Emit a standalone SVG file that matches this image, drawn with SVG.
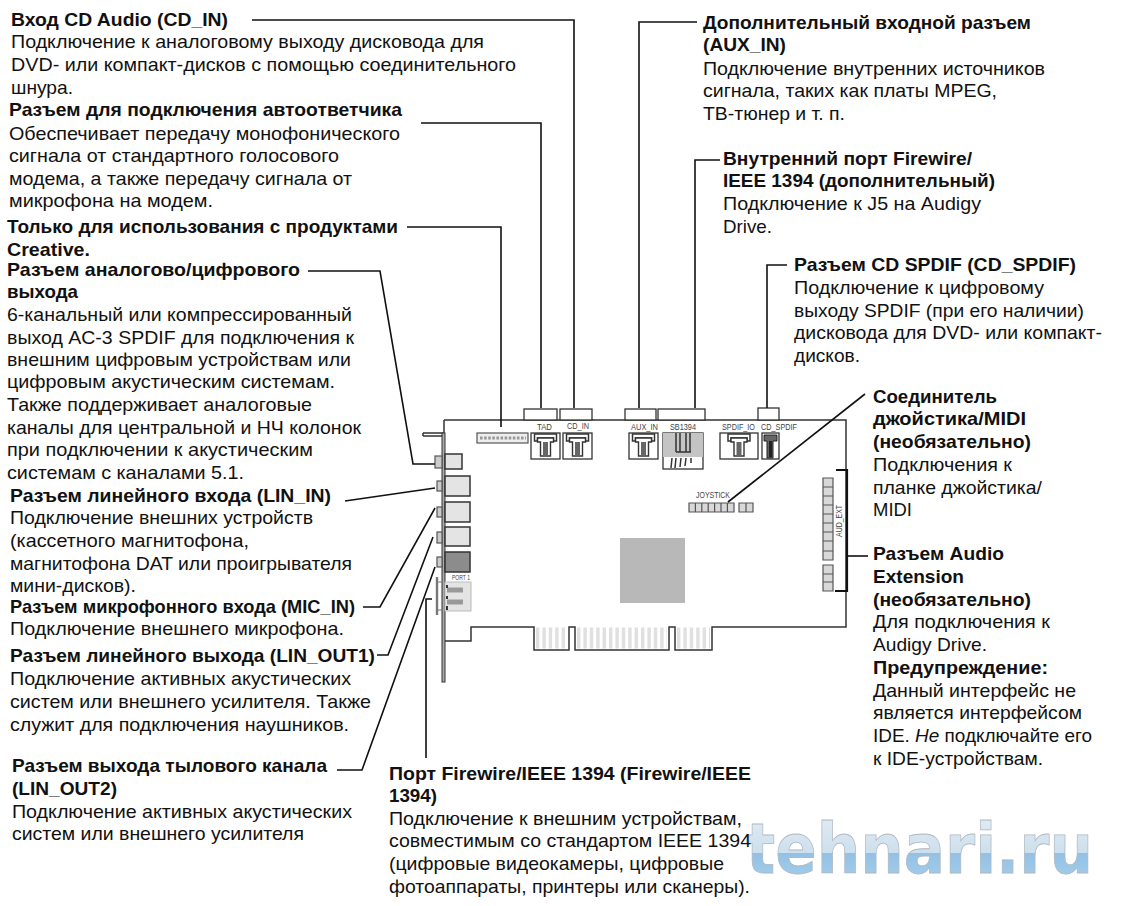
<svg xmlns="http://www.w3.org/2000/svg" width="1143" height="906" viewBox="0 0 1143 906">
<style>
text{font-family:"Liberation Sans",Arial,sans-serif;font-size:18.5px;fill:#111}
.b{font-weight:700}
.s{font-size:9.5px;fill:#444}
.c{fill:none;stroke:#111;stroke-width:1.6}
.o{fill:none;stroke:#333;stroke-width:1.5}
.j{fill:#e4e4e4;stroke:#333;stroke-width:1.5}
.w{fill:#fff;stroke:#333;stroke-width:1.3}
.n{fill:#d8d8d8;stroke:#555;stroke-width:1.2}
.m{fill:#ccc;stroke:#555;stroke-width:1.2}
</style>
<defs>
<g id="tee"><path class="o" d="M-11 1H11V8H8V5H-8V8H-11Z"/><path d="M-8 5H8V9H5V23H-5V9H-8Z" fill="#fff" stroke="#333" stroke-width="1.4"/><rect x="-2.5" y="9" width="5" height="13" fill="#666"/></g>
<linearGradient id="wm" gradientUnits="userSpaceOnUse" x1="0" y1="820" x2="0" y2="873"><stop offset="0" stop-color="#dfeaf3"/><stop offset=".62" stop-color="#cddfed"/><stop offset=".63" stop-color="#93c1e5"/><stop offset="1" stop-color="#a0cae9"/></linearGradient>
</defs>
<text id="watermark" x="746" y="873" textLength="347" lengthAdjust="spacingAndGlyphs" style="font-family:'DejaVu Sans',sans-serif;font-weight:700;font-size:70px;fill:url(#wm);stroke:#b0b8c0;stroke-width:.8">tehnari.ru</text>
<g id="board">
<path class="o" d="M444 420H846V627H712V650H675V627H669V650H575V627H569V650H534V627H471V641H445"/>
<path class="o" d="M423 433H443M423 436H442M423 433V436"/>
<rect x="442" y="433" width="3" height="249" fill="#aaa" stroke="#333" stroke-width="1"/>
<path d="M444 420V433" class="o"/>
<path fill="none" stroke="#777" stroke-width="2.4" d="M437 577V615"/>
<path stroke="#777" stroke-width="1.2" d="M437 582H443M437 610H443"/>
<rect class="w" x="524" y="409" width="33" height="11"/><rect class="w" x="560" y="409" width="32" height="11"/><rect class="w" x="625" y="409" width="31" height="11"/><rect class="w" x="658" y="409" width="47" height="11"/><rect class="w" x="758" y="408" width="21" height="12"/>
<text class="s" x="537" y="430" textLength="15" lengthAdjust="spacingAndGlyphs">TAD</text><text class="s" x="567" y="429" textLength="22" lengthAdjust="spacingAndGlyphs">CD_IN</text><text class="s" x="631" y="430" textLength="27" lengthAdjust="spacingAndGlyphs">AUX_IN</text><text class="s" x="670" y="430" textLength="26" lengthAdjust="spacingAndGlyphs">SB1394</text><text class="s" x="722" y="430" textLength="33" lengthAdjust="spacingAndGlyphs">SPDIF_IO</text><text class="s" x="761" y="430" textLength="36" lengthAdjust="spacingAndGlyphs">CD_SPDIF</text>
<rect x="477" y="433" width="51" height="10" fill="#eee" stroke="#555" stroke-width="1.2"/>
<path stroke="#999" stroke-width="3" stroke-dasharray="2.6 1.5" d="M480 438H526"/>
<rect class="w" x="531" y="433" width="29" height="26"/><use href="#tee" x="545.5" y="433"/>
<rect class="w" x="563" y="433" width="29" height="26"/><use href="#tee" x="577.5" y="433"/>
<rect class="w" x="629" y="433" width="29" height="26"/><use href="#tee" x="643.5" y="433"/>
<rect class="w" x="663" y="433" width="40" height="36" stroke="#999"/><rect x="663" y="433" width="40" height="24" fill="#c4c4c4"/>
<path stroke="#333" stroke-width="1.5" fill="none" d="M676 433V452M680 433V452M686 433V452M690 433V452M676 452H691M672 458L671 468M676 458L675 468M681 458L680 467M686 458L685 466M691 458V463"/>
<rect class="w" x="720" y="433" width="38" height="26"/><use href="#tee" x="739" y="433"/>
<rect class="w" x="762" y="433" width="17" height="26"/><path d="M764 435H777V441H773V458H767V441H764Z" fill="#666" stroke="#222"/><rect x="769" y="441" width="3" height="16" fill="#222"/>
<text class="s" x="696" y="498" textLength="34" lengthAdjust="spacingAndGlyphs">JOYSTICK</text>
<path class="n" d="M689 503H734V512H689ZM695.4 503V512M701.8 503V512M708.2 503V512M714.6 503V512M721 503V512M727.4 503V512M739 503H753V512H739ZM746 503V512"/>
<path class="n" d="M823 478H833V560H823ZM823 487H833M823 496H833M823 505H833M823 514H833M823 523H833M823 532H833M823 541H833M823 551H833M823 565H833V591H823ZM823 574H833M823 582H833"/>
<text class="s" transform="translate(842,537) rotate(-90)" textLength="32" lengthAdjust="spacingAndGlyphs">AUD_EXT</text>
<rect x="620" y="538" width="65" height="65" fill="#b8b8b8"/>
<rect class="j" x="445" y="454" width="17" height="15"/><rect class="j" x="445" y="476" width="25" height="20"/><rect class="j" x="445" y="502" width="25" height="20"/><rect class="j" x="445" y="527" width="25" height="19"/><rect x="445" y="552" width="25" height="20" fill="#8c8c8c" stroke="#333" stroke-width="1.5"/>
<rect class="m" x="435" y="456" width="7" height="12"/><rect class="m" x="437" y="481" width="5" height="10"/><rect class="m" x="437" y="507" width="5" height="10"/><rect class="m" x="437" y="532" width="5" height="11"/><rect class="m" x="437" y="557" width="5" height="10"/>
<text class="s" x="452" y="580" textLength="18" lengthAdjust="spacingAndGlyphs" style="font-size:6.5px">PORT 1</text>
<rect x="445" y="582" width="26" height="29" fill="#e4e4e4" stroke="#bbb"/>
<path stroke="#999" stroke-width="5" d="M447 590H463M447 602H463"/>
<path stroke="#333" stroke-width="2" d="M447 585V588M447 596V599M447 606V610"/>
<path fill="none" stroke="#e0e0e0" stroke-dasharray="3.4 3" stroke-width="21" d="M536 638H567M577 638H667M677 638H710"/>
</g>
<g id="connectors">
<path class="c" d="M252 20H574V408"/>
<path class="c" d="M421 123H541V408"/>
<path class="c" d="M407 227H501V427"/>
<path class="c" d="M308 271H380L413 464H435"/>
<path class="c" d="M345 501L435 488"/>
<path class="c" d="M363 607H380L435 508"/>
<path class="c" d="M377 655H388L433 537"/>
<path class="c" d="M337 770H362L435 567"/>
<path class="c" d="M426 758V599H432"/>
<path class="c" d="M697 22H639V408"/>
<path class="c" d="M720 160H695V408"/>
<path class="c" d="M787 265H767V408"/>
<path class="c" d="M865 394L728 502"/>
<path class="c" d="M868 556H847"/>
<path fill="none" stroke="#111" stroke-width="2.2" d="M836 470H847V591H835"/>
</g>
<g id="cd-in" transform="translate(-1,0)"><text class="b" x="12" y="26" textLength="217" lengthAdjust="spacingAndGlyphs">Вход CD Audio (CD_IN)</text><text x="12" y="48" textLength="473" lengthAdjust="spacingAndGlyphs">Подключение к аналоговому выходу дисковода для</text><text x="12" y="71" textLength="505" lengthAdjust="spacingAndGlyphs">DVD- или компакт-дисков с помощью соединительного</text><text x="12" y="94" textLength="62" lengthAdjust="spacingAndGlyphs">шнура.</text></g>
<g id="tad" transform="translate(-1,0)"><text class="b" x="10" y="116" textLength="393" lengthAdjust="spacingAndGlyphs">Разъем для подключения автоответчика</text><text x="10" y="140" textLength="391" lengthAdjust="spacingAndGlyphs">Обеспечивает передачу монофонического</text><text x="10" y="162" textLength="330" lengthAdjust="spacingAndGlyphs">сигнала от стандартного голосового</text><text x="10" y="185" textLength="343" lengthAdjust="spacingAndGlyphs">модема, а также передачу сигнала от</text><text x="10" y="207" textLength="204" lengthAdjust="spacingAndGlyphs">микрофона на модем.</text></g>
<g id="creative" transform="translate(-1,0)"><text class="b" x="8" y="233" textLength="391" lengthAdjust="spacingAndGlyphs">Только для использования с продуктами</text><text class="b" x="8" y="256" textLength="83" lengthAdjust="spacingAndGlyphs">Creative.</text></g>
<g id="spdif-out" transform="translate(-1,0)"><text class="b" x="8" y="276" textLength="293" lengthAdjust="spacingAndGlyphs">Разъем аналогово/цифрового</text><text class="b" x="8" y="298" textLength="71" lengthAdjust="spacingAndGlyphs">выхода</text><text x="8" y="321" textLength="345" lengthAdjust="spacingAndGlyphs">6-канальный или компрессированный</text><text x="8" y="344" textLength="347" lengthAdjust="spacingAndGlyphs">выход AC-3 SPDIF для подключения к</text><text x="8" y="366" textLength="344" lengthAdjust="spacingAndGlyphs">внешним цифровым устройствам или</text><text x="8" y="388" textLength="328" lengthAdjust="spacingAndGlyphs">цифровым акустическим системам.</text><text x="8" y="411" textLength="305" lengthAdjust="spacingAndGlyphs">Также поддерживает аналоговые</text><text x="8" y="434" textLength="354" lengthAdjust="spacingAndGlyphs">каналы для центральной и НЧ колонок</text><text x="8" y="456" textLength="306" lengthAdjust="spacingAndGlyphs">при подключении к акустическим</text><text x="8" y="479" textLength="237" lengthAdjust="spacingAndGlyphs">системам с каналами 5.1.</text></g>
<g id="lin-in" transform="translate(-1,0)"><text class="b" x="11" y="502" textLength="321" lengthAdjust="spacingAndGlyphs">Разъем линейного входа (LIN_IN)</text><text x="11" y="524" textLength="303" lengthAdjust="spacingAndGlyphs">Подключение внешних устройств</text><text x="11" y="547" textLength="239" lengthAdjust="spacingAndGlyphs">(кассетного магнитофона,</text><text x="11" y="570" textLength="342" lengthAdjust="spacingAndGlyphs">магнитофона DAT или проигрывателя</text><text x="11" y="592" textLength="126" lengthAdjust="spacingAndGlyphs">мини-дисков).</text></g>
<g id="mic-in" transform="translate(-1,0)"><text class="b" x="11" y="613" textLength="345" lengthAdjust="spacingAndGlyphs">Разъем микрофонного входа (MIC_IN)</text><text x="11" y="635" textLength="334" lengthAdjust="spacingAndGlyphs">Подключение внешнего микрофона.</text></g>
<g id="lin-out1" transform="translate(-1,0)"><text class="b" x="11" y="662" textLength="365" lengthAdjust="spacingAndGlyphs">Разъем линейного выхода (LIN_OUT1)</text><text x="11" y="685" textLength="341" lengthAdjust="spacingAndGlyphs">Подключение активных акустических</text><text x="11" y="708" textLength="361" lengthAdjust="spacingAndGlyphs">систем или внешнего усилителя. Также</text><text x="11" y="731" textLength="339" lengthAdjust="spacingAndGlyphs">служит для подключения наушников.</text></g>
<g id="lin-out2" transform="translate(-1,0)"><text class="b" x="13" y="772" textLength="315" lengthAdjust="spacingAndGlyphs">Разъем выхода тылового канала</text><text class="b" x="13" y="795" textLength="105" lengthAdjust="spacingAndGlyphs">(LIN_OUT2)</text><text x="13" y="818" textLength="340" lengthAdjust="spacingAndGlyphs">Подключение активных акустических</text><text x="13" y="840" textLength="292" lengthAdjust="spacingAndGlyphs">систем или внешнего усилителя</text></g>
<g id="firewire" transform="translate(-1,0)"><text class="b" x="390" y="780" textLength="362" lengthAdjust="spacingAndGlyphs">Порт Firewire/IEEE 1394 (Firewire/IEEE</text><text class="b" x="390" y="802" textLength="48" lengthAdjust="spacingAndGlyphs">1394)</text><text x="390" y="825" textLength="353" lengthAdjust="spacingAndGlyphs">Подключение к внешним устройствам,</text><text x="390" y="847" textLength="362" lengthAdjust="spacingAndGlyphs">совместимым со стандартом IEEE 1394</text><text x="390" y="870" textLength="335" lengthAdjust="spacingAndGlyphs">(цифровые видеокамеры, цифровые</text><text x="390" y="893" textLength="361" lengthAdjust="spacingAndGlyphs">фотоаппараты, принтеры или сканеры).</text></g>
<g id="aux-in" transform="translate(-1,1)"><text class="b" x="704" y="28" textLength="328" lengthAdjust="spacingAndGlyphs">Дополнительный входной разъем</text><text class="b" x="704" y="50" textLength="83" lengthAdjust="spacingAndGlyphs">(AUX_IN)</text><text x="704" y="74" textLength="342" lengthAdjust="spacingAndGlyphs">Подключение внутренних источников</text><text x="704" y="96" textLength="294" lengthAdjust="spacingAndGlyphs">сигнала, таких как платы MPEG,</text><text x="704" y="119" textLength="142" lengthAdjust="spacingAndGlyphs">ТВ-тюнер и т. п.</text></g>
<g id="int-firewire" transform="translate(-1,0)"><text class="b" x="724" y="165" textLength="249" lengthAdjust="spacingAndGlyphs">Внутренний порт Firewire/</text><text class="b" x="724" y="187" textLength="272" lengthAdjust="spacingAndGlyphs">IEEE 1394 (дополнительный)</text><text x="724" y="210" textLength="258" lengthAdjust="spacingAndGlyphs">Подключение к J5 на Audigy</text><text x="724" y="233" textLength="49" lengthAdjust="spacingAndGlyphs">Drive.</text></g>
<g id="cd-spdif" transform="translate(-1,1)"><text class="b" x="795" y="270" textLength="282" lengthAdjust="spacingAndGlyphs">Разъем CD SPDIF (CD_SPDIF)</text><text x="795" y="293" textLength="250" lengthAdjust="spacingAndGlyphs">Подключение к цифровому</text><text x="795" y="316" textLength="290" lengthAdjust="spacingAndGlyphs">выходу SPDIF (при его наличии)</text><text x="795" y="338" textLength="308" lengthAdjust="spacingAndGlyphs">дисковода для DVD- или компакт-</text><text x="795" y="361" textLength="66" lengthAdjust="spacingAndGlyphs">дисков.</text></g>
<g id="joystick" transform="translate(-1,1)"><text class="b" x="874" y="402" textLength="124" lengthAdjust="spacingAndGlyphs">Соединитель</text><text class="b" x="874" y="424" textLength="153" lengthAdjust="spacingAndGlyphs">джойстика/MIDI</text><text class="b" x="874" y="447" textLength="158" lengthAdjust="spacingAndGlyphs">(необязательно)</text><text x="874" y="470" textLength="139" lengthAdjust="spacingAndGlyphs">Подключения к</text><text x="874" y="493" textLength="169" lengthAdjust="spacingAndGlyphs">планке джойстика/</text><text x="874" y="515" textLength="39" lengthAdjust="spacingAndGlyphs">MIDI</text></g>
<g id="audio-ext" transform="translate(-1,1)"><text class="b" x="874" y="559" textLength="131" lengthAdjust="spacingAndGlyphs">Разъем Audio</text><text class="b" x="874" y="582" textLength="91" lengthAdjust="spacingAndGlyphs">Extension</text><text class="b" x="874" y="605" textLength="158" lengthAdjust="spacingAndGlyphs">(необязательно)</text><text x="874" y="627" textLength="177" lengthAdjust="spacingAndGlyphs">Для подключения к</text><text x="874" y="650" textLength="114" lengthAdjust="spacingAndGlyphs">Audigy Drive.</text><text class="b" x="874" y="673" textLength="175" lengthAdjust="spacingAndGlyphs">Предупреждение:</text><text x="874" y="696" textLength="203" lengthAdjust="spacingAndGlyphs">Данный интерфейс не</text><text x="874" y="718" textLength="209" lengthAdjust="spacingAndGlyphs">является интерфейсом</text><text x="874" y="741" textLength="219" lengthAdjust="spacingAndGlyphs">IDE. <tspan font-style="italic">Не</tspan> подключайте его</text><text x="874" y="764" textLength="170" lengthAdjust="spacingAndGlyphs">к IDE-устройствам.</text></g>
</svg>
